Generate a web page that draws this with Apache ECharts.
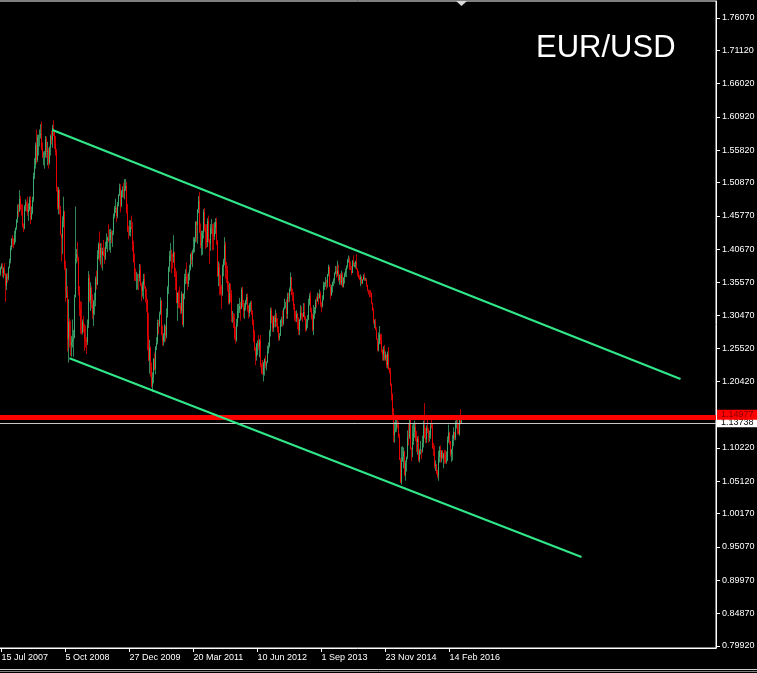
<!DOCTYPE html>
<html><head><meta charset="utf-8">
<script src="https://cdn.jsdelivr.net/npm/echarts@6/dist/echarts.min.js"></script>
<style>html,body{margin:0;padding:0;background:#000;}#chart{width:757px;height:673px;}</style>
</head><body><div id="chart"></div>
<script>
const chartTitle = 'EUR/USD';
const firstWeekStart = [2007, 6, 1];   // Sunday 1 Jul 2007 (UTC y, m0, d)
const weekSlots = 717;                 // weekly slots shown on the time axis (incl. empty future)
const xTickLabels = ['15 Jul 2007','5 Oct 2008','27 Dec 2009','20 Mar 2011','10 Jun 2012','1 Sep 2013','23 Nov 2014','14 Feb 2016'];
const yTickValues = [0.79920,0.84870,0.89970,0.95070,1.00170,1.05120,1.10220,1.20420,1.25520,1.30470,1.35570,1.40670,1.45770,1.50870,1.55820,1.60920,1.66020,1.71120,1.76070];

// weekly candles: [open, close, low, high]
const weeks2007 = [
[1.3610,1.3690,1.3580,1.3700],[1.3690,1.3780,1.3660,1.3800],[1.3780,1.3820,1.3760,1.3850],[1.3820,1.3700,1.3640,1.3850],
[1.3700,1.3760,1.3620,1.3790],[1.3760,1.3680,1.3660,1.3850],[1.3680,1.3500,1.3260,1.3700],[1.3500,1.3650,1.3440,1.3690],
[1.3650,1.3620,1.3550,1.3700],[1.3620,1.3790,1.3590,1.3800],[1.3790,1.3890,1.3770,1.3920],[1.3890,1.4090,1.3850,1.4120],
[1.4090,1.4230,1.4050,1.4230],[1.4230,1.4180,1.4100,1.4280],[1.4180,1.4150,1.4080,1.4230],[1.4150,1.4290,1.4130,1.4350],
[1.4290,1.4390,1.4170,1.4400],[1.4390,1.4520,1.4360,1.4530],[1.4520,1.4660,1.4470,1.4750],[1.4660,1.4640,1.4560,1.4760],
[1.4640,1.4840,1.4640,1.4970],[1.4840,1.4680,1.4660,1.4880],[1.4680,1.4670,1.4580,1.4760],[1.4670,1.4420,1.4400,1.4750],
[1.4420,1.4380,1.4330,1.4460],[1.4380,1.4720,1.4370,1.4740],[1.4720,1.4760,1.4650,1.4830]
];
const weeks2008 = [
[1.4760,1.4750,1.4640,1.4800],[1.4750,1.4630,1.4580,1.4870],[1.4630,1.4680,1.4500,1.4770],[1.4680,1.4830,1.4650,1.4870],
[1.4830,1.4520,1.4450,1.4880],[1.4520,1.4620,1.4520,1.4720],[1.4620,1.4820,1.4600,1.4870],[1.4820,1.5190,1.4790,1.5240],
[1.5190,1.5350,1.5140,1.5460],[1.5350,1.5660,1.5300,1.5700],[1.5660,1.5430,1.5380,1.5900],[1.5430,1.5790,1.5400,1.5820],
[1.5790,1.5800,1.5500,1.5820],[1.5800,1.5810,1.5640,1.5900],[1.5810,1.5830,1.5760,1.5980],[1.5830,1.5620,1.5580,1.6020],
[1.5620,1.5470,1.5460,1.5700],[1.5470,1.5480,1.5350,1.5560],[1.5480,1.5500,1.5300,1.5570],[1.5500,1.5750,1.5470,1.5800],
[1.5750,1.5550,1.5460,1.5790],[1.5550,1.5580,1.5350,1.5710],[1.5580,1.5380,1.5300,1.5620],[1.5380,1.5620,1.5360,1.5640],
[1.5620,1.5800,1.5500,1.5820],[1.5800,1.5730,1.5670,1.5880],[1.5730,1.5930,1.5620,1.5970],[1.5930,1.5890,1.5800,1.6040],
[1.5890,1.5700,1.5600,1.5890],[1.5700,1.5550,1.5500,1.5800],[1.5550,1.5000,1.4950,1.5600],[1.5000,1.4700,1.4670,1.5020],
[1.4700,1.4980,1.4600,1.5020],[1.4980,1.4670,1.4600,1.4980],[1.4670,1.4290,1.4280,1.4730],[1.4290,1.4230,1.3880,1.4300],
[1.4230,1.4500,1.3990,1.4570],[1.4500,1.4650,1.4400,1.4870],[1.4650,1.3800,1.3750,1.4650],[1.3800,1.3420,1.3260,1.3890],
[1.3420,1.3430,1.3320,1.3770],[1.3430,1.2680,1.2500,1.3500],[1.2680,1.2950,1.2330,1.3300],[1.2950,1.2720,1.2560,1.3000],
[1.2720,1.2600,1.2430,1.2970],[1.2600,1.2640,1.2420,1.2740],[1.2640,1.2690,1.2560,1.2990],[1.2690,1.2710,1.2420,1.2830],
[1.2710,1.3330,1.2700,1.3370],[1.3330,1.3930,1.3330,1.4720],[1.3930,1.4000,1.3850,1.4070],[1.4000,1.3930,1.3880,1.4180]
];
const weeks2009 = [
[1.3930,1.3420,1.3360,1.3950],[1.3420,1.3150,1.3040,1.3500],[1.3150,1.2820,1.2770,1.3270],[1.2820,1.2790,1.2760,1.3260],
[1.2790,1.2960,1.2760,1.2990],[1.2960,1.2850,1.2790,1.3040],[1.2850,1.2680,1.2510,1.2920],[1.2680,1.2660,1.2560,1.2900],
[1.2660,1.2640,1.2460,1.2720],[1.2640,1.2910,1.2600,1.2990],[1.2910,1.3630,1.2860,1.3730],[1.3630,1.3280,1.3250,1.3680],
[1.3280,1.3480,1.3120,1.3560],[1.3480,1.3220,1.3160,1.3500],[1.3220,1.3070,1.3000,1.3370],[1.3070,1.3260,1.2890,1.3290],
[1.3260,1.3280,1.3060,1.3400],[1.3280,1.3620,1.3190,1.3650],[1.3620,1.3520,1.3450,1.3740],[1.3520,1.3990,1.3520,1.4050],
[1.3990,1.4150,1.3910,1.4170],[1.4150,1.3930,1.3880,1.4340],[1.3930,1.4090,1.3830,1.4160],[1.4090,1.3970,1.3780,1.4160],
[1.3970,1.4040,1.3740,1.4090],[1.4040,1.3970,1.3960,1.4210],[1.3970,1.3930,1.3840,1.4090],[1.3930,1.4100,1.3900,1.4180],
[1.4100,1.4200,1.4070,1.4310],[1.4200,1.4240,1.4020,1.4260],[1.4240,1.4190,1.4170,1.4450],[1.4190,1.4200,1.4050,1.4370],
[1.4200,1.4330,1.4010,1.4380],[1.4330,1.4300,1.4160,1.4360],[1.4300,1.4320,1.4100,1.4350],[1.4320,1.4570,1.4280,1.4610],
[1.4570,1.4680,1.4540,1.4730],[1.4680,1.4700,1.4620,1.4840],[1.4700,1.4570,1.4480,1.4720],[1.4570,1.4760,1.4540,1.4790],
[1.4760,1.4900,1.4720,1.4910],[1.4900,1.5000,1.4880,1.5070],[1.5000,1.4730,1.4630,1.5060],[1.4730,1.4960,1.4710,1.4970],
[1.4960,1.4980,1.4860,1.5030],[1.4980,1.4950,1.4850,1.5080],[1.4950,1.4990,1.4830,1.5140],[1.4990,1.5040,1.4960,1.5140],
[1.5040,1.4630,1.4610,1.5100],[1.4630,1.4340,1.4330,1.4760],[1.4340,1.4320,1.4220,1.4420],[1.4320,1.4330,1.4270,1.4510]
];
const weeks2010 = [
[1.4330,1.4410,1.4260,1.4510],[1.4410,1.4380,1.4370,1.4580],[1.4380,1.4140,1.4030,1.4480],[1.4140,1.3870,1.3860,1.4190],
[1.3870,1.3630,1.3580,1.4000],[1.3630,1.3610,1.3580,1.3770],[1.3610,1.3620,1.3440,1.3720],[1.3620,1.3630,1.3450,1.3690],
[1.3630,1.3620,1.3440,1.3690],[1.3620,1.3750,1.3570,1.3840],[1.3750,1.3520,1.3500,1.3830],[1.3520,1.3420,1.3270,1.3550],
[1.3420,1.3510,1.3340,1.3570],[1.3510,1.3610,1.3300,1.3690],[1.3610,1.3500,1.3460,1.3690],[1.3500,1.3340,1.3250,1.3500],
[1.3340,1.3290,1.3110,1.3460],[1.3290,1.2750,1.2520,1.3300],[1.2750,1.2360,1.2350,1.3090],[1.2360,1.2560,1.2160,1.2680],
[1.2560,1.2270,1.2110,1.2580],[1.2270,1.1970,1.1950,1.2330],[1.1970,1.2110,1.1880,1.2180],[1.2110,1.2390,1.2010,1.2400],
[1.2390,1.2230,1.2210,1.2480],[1.2230,1.2570,1.2150,1.2580],[1.2570,1.2640,1.2520,1.2720],[1.2640,1.2940,1.2610,1.2990],
[1.2940,1.2920,1.2760,1.2980],[1.2920,1.3080,1.2880,1.3110],[1.3080,1.3280,1.3060,1.3330],[1.3280,1.2750,1.2750,1.3290],
[1.2750,1.2660,1.2590,1.2900],[1.2660,1.2750,1.2590,1.2780],[1.2750,1.2890,1.2640,1.2920],[1.2890,1.2740,1.2650,1.2900],
[1.2740,1.3050,1.2700,1.3160],[1.3050,1.3480,1.3020,1.3500],[1.3480,1.3790,1.3380,1.3800],[1.3790,1.3970,1.3720,1.4040],
[1.3970,1.3980,1.3880,1.4160],[1.3980,1.3950,1.3700,1.4060],[1.3950,1.3940,1.3770,1.4000],[1.3940,1.4020,1.3860,1.4280],
[1.4020,1.3690,1.3640,1.4030],[1.3690,1.3670,1.3440,1.3780],[1.3670,1.3240,1.3240,1.3730],[1.3240,1.3400,1.2970,1.3400],
[1.3400,1.3220,1.3160,1.3430],[1.3220,1.3200,1.3160,1.3490],[1.3200,1.3120,1.3070,1.3240],[1.3120,1.3380,1.3080,1.3420]
];
const weeks2011 = [
[1.3380,1.2910,1.2900,1.3390],[1.2910,1.3380,1.2870,1.3390],[1.3380,1.3610,1.3300,1.3690],[1.3610,1.3640,1.3530,1.3760],
[1.3640,1.3580,1.3540,1.3860],[1.3580,1.3530,1.3440,1.3690],[1.3530,1.3690,1.3490,1.3710],[1.3690,1.3750,1.3590,1.3830],
[1.3750,1.3990,1.3740,1.4000],[1.3990,1.3900,1.3830,1.4030],[1.3900,1.4020,1.3790,1.4060],[1.4020,1.4090,1.4000,1.4250],
[1.4090,1.4230,1.4020,1.4250],[1.4230,1.4490,1.4170,1.4490],[1.4490,1.4430,1.4180,1.4490],[1.4430,1.4670,1.4150,1.4680],
[1.4670,1.4810,1.4620,1.4880],[1.4810,1.4320,1.4320,1.4940],[1.4320,1.4120,1.4080,1.4460],[1.4120,1.4160,1.3970,1.4350],
[1.4160,1.4310,1.3980,1.4350],[1.4310,1.4640,1.4230,1.4680],[1.4640,1.4390,1.4340,1.4700],[1.4390,1.4330,1.4070,1.4450],
[1.4330,1.4170,1.4090,1.4450],[1.4170,1.4500,1.4100,1.4540],[1.4500,1.4200,1.4170,1.4580],[1.4200,1.4150,1.3840,1.4220],
[1.4150,1.4390,1.4040,1.4450],[1.4390,1.4400,1.4300,1.4530],[1.4400,1.4280,1.4050,1.4450],[1.4280,1.4260,1.4050,1.4460],
[1.4260,1.4380,1.4210,1.4480],[1.4380,1.4490,1.4300,1.4540],[1.4490,1.4200,1.4130,1.4550],[1.4200,1.3650,1.3650,1.4200],
[1.3650,1.3790,1.3500,1.3880],[1.3790,1.3500,1.3360,1.3850],[1.3500,1.3390,1.3360,1.3670],[1.3390,1.3380,1.3150,1.3520],
[1.3380,1.3790,1.3350,1.3830],[1.3790,1.3890,1.3650,1.3920],[1.3890,1.4130,1.3820,1.4250],[1.4130,1.3770,1.3610,1.4180],
[1.3770,1.3750,1.3550,1.3870],[1.3750,1.3520,1.3420,1.3810],[1.3520,1.3240,1.3220,1.3580],[1.3240,1.3390,1.3220,1.3550],
[1.3390,1.3380,1.3250,1.3540],[1.3380,1.3040,1.2950,1.3440],[1.3040,1.3050,1.2940,1.3120],[1.3050,1.2960,1.2860,1.3090]
];
const weeks2012 = [
[1.2960,1.2720,1.2680,1.3080],[1.2720,1.2680,1.2620,1.2880],[1.2680,1.2930,1.2650,1.3000],[1.2930,1.3130,1.2880,1.3230],
[1.3130,1.3150,1.3010,1.3230],[1.3150,1.3200,1.3090,1.3320],[1.3200,1.3150,1.2970,1.3260],[1.3150,1.3450,1.3150,1.3480],
[1.3450,1.3200,1.3180,1.3490],[1.3200,1.3120,1.3020,1.3290],[1.3120,1.3180,1.3000,1.3240],[1.3180,1.3270,1.3130,1.3290],
[1.3270,1.3340,1.3220,1.3380],[1.3340,1.3140,1.3110,1.3390],[1.3140,1.3080,1.3000,1.3210],[1.3080,1.3220,1.3030,1.3240],
[1.3220,1.3240,1.3110,1.3270],[1.3240,1.3090,1.3060,1.3280],[1.3090,1.2920,1.2900,1.3130],[1.2920,1.2780,1.2640,1.2990],
[1.2780,1.2520,1.2510,1.2830],[1.2520,1.2420,1.2290,1.2570],[1.2420,1.2620,1.2360,1.2630],[1.2620,1.2640,1.2440,1.2670],
[1.2640,1.2570,1.2520,1.2750],[1.2570,1.2670,1.2410,1.2690],[1.2670,1.2290,1.2260,1.2750],[1.2290,1.2160,1.2160,1.2320],
[1.2160,1.2150,1.2140,1.2370],[1.2150,1.2320,1.2040,1.2340],[1.2320,1.2390,1.2130,1.2390],[1.2390,1.2280,1.2240,1.2440],
[1.2280,1.2330,1.2210,1.2350],[1.2330,1.2510,1.2320,1.2590],[1.2510,1.2580,1.2470,1.2640],[1.2580,1.2810,1.2560,1.2830],
[1.2810,1.3130,1.2730,1.3170],[1.3130,1.2980,1.2930,1.3170],[1.2980,1.2860,1.2800,1.3050],[1.2860,1.3040,1.2800,1.3040],
[1.3040,1.2950,1.2870,1.3060],[1.2950,1.3020,1.2870,1.3140],[1.3020,1.2940,1.2880,1.3090],[1.2940,1.2840,1.2790,1.3010],
[1.2840,1.2710,1.2660,1.2880],[1.2710,1.2740,1.2670,1.2780],[1.2740,1.2980,1.2740,1.2990],[1.2980,1.2990,1.2880,1.3030],
[1.2990,1.2930,1.2880,1.3130],[1.2930,1.3160,1.2900,1.3170],[1.3160,1.3180,1.3140,1.3310],[1.3180,1.3190,1.3160,1.3260],
[1.3190,1.3070,1.3000,1.3300]
];
const weeks2013 = [
[1.3070,1.3340,1.3000,1.3400],[1.3340,1.3320,1.3250,1.3400],[1.3320,1.3460,1.3260,1.3480],[1.3460,1.3640,1.3420,1.3710],
[1.3640,1.3370,1.3360,1.3640],[1.3370,1.3360,1.3270,1.3460],[1.3360,1.3190,1.3140,1.3410],[1.3190,1.3020,1.2970,1.3230],
[1.3020,1.3010,1.2950,1.3120],[1.3010,1.3080,1.2950,1.3130],[1.3080,1.2990,1.2840,1.3090],[1.2990,1.2820,1.2750,1.3020],
[1.2820,1.2990,1.2750,1.3000],[1.2990,1.3100,1.2970,1.3210],[1.3100,1.3050,1.2990,1.3190],[1.3050,1.3030,1.2950,1.3090],
[1.3030,1.3110,1.3030,1.3240],[1.3110,1.2990,1.2980,1.3240],[1.2990,1.2830,1.2800,1.3040],[1.2830,1.2930,1.2820,1.3000],
[1.2930,1.2990,1.2860,1.3060],[1.2990,1.3220,1.2980,1.3310],[1.3220,1.3350,1.3200,1.3390],[1.3350,1.3120,1.3100,1.3420],
[1.3120,1.3010,1.2990,1.3170],[1.3010,1.2830,1.2810,1.3080],[1.2830,1.3060,1.2750,1.3210],[1.3060,1.3140,1.3000,1.3180],
[1.3140,1.3280,1.3080,1.3300],[1.3280,1.3270,1.3170,1.3340],[1.3270,1.3340,1.3260,1.3400],[1.3340,1.3320,1.3220,1.3390],
[1.3320,1.3380,1.3310,1.3450],[1.3380,1.3220,1.3180,1.3420],[1.3220,1.3190,1.3100,1.3260],[1.3190,1.3300,1.3170,1.3360],
[1.3300,1.3520,1.3280,1.3570],[1.3520,1.3530,1.3440,1.3560],[1.3530,1.3560,1.3490,1.3640],[1.3560,1.3550,1.3450,1.3600],
[1.3550,1.3680,1.3480,1.3690],[1.3680,1.3800,1.3650,1.3830],[1.3800,1.3490,1.3490,1.3810],[1.3490,1.3360,1.3300,1.3530],
[1.3360,1.3500,1.3350,1.3520],[1.3500,1.3560,1.3400,1.3570],[1.3560,1.3590,1.3500,1.3620],[1.3590,1.3700,1.3540,1.3710],
[1.3700,1.3740,1.3680,1.3810],[1.3740,1.3680,1.3630,1.3810],[1.3680,1.3740,1.3650,1.3890],[1.3740,1.3590,1.3570,1.3830]
];
const weeks2014 = [
[1.3590,1.3670,1.3520,1.3680],[1.3670,1.3540,1.3520,1.3700],[1.3540,1.3680,1.3510,1.3740],[1.3680,1.3490,1.3480,1.3710],
[1.3490,1.3630,1.3480,1.3640],[1.3630,1.3690,1.3540,1.3710],[1.3690,1.3740,1.3640,1.3770],[1.3740,1.3800,1.3640,1.3820],
[1.3800,1.3910,1.3770,1.3920],[1.3910,1.3920,1.3860,1.3970],[1.3920,1.3780,1.3750,1.3950],[1.3780,1.3750,1.3750,1.3880],
[1.3750,1.3700,1.3670,1.3810],[1.3700,1.3880,1.3700,1.3900],[1.3880,1.3810,1.3800,1.3970],[1.3810,1.3830,1.3790,1.3860],
[1.3830,1.3870,1.3770,1.3890],[1.3870,1.3760,1.3750,1.3990],[1.3760,1.3700,1.3650,1.3770],[1.3700,1.3630,1.3620,1.3730],
[1.3630,1.3610,1.3590,1.3670],[1.3610,1.3640,1.3500,1.3680],[1.3640,1.3540,1.3530,1.3650],[1.3540,1.3600,1.3530,1.3610],
[1.3600,1.3650,1.3590,1.3680],[1.3650,1.3590,1.3580,1.3700],[1.3590,1.3600,1.3580,1.3630],[1.3600,1.3520,1.3490,1.3620],
[1.3520,1.3430,1.3420,1.3520],[1.3430,1.3420,1.3370,1.3450],[1.3420,1.3410,1.3330,1.3440],[1.3410,1.3400,1.3330,1.3440],
[1.3400,1.3240,1.3230,1.3400],[1.3240,1.3130,1.3120,1.3250],[1.3130,1.2950,1.2920,1.3170],[1.2950,1.2960,1.2860,1.2990],
[1.2960,1.2830,1.2830,1.3000],[1.2830,1.2680,1.2680,1.2870],[1.2680,1.2520,1.2500,1.2700],[1.2520,1.2630,1.2500,1.2790],
[1.2630,1.2760,1.2610,1.2890],[1.2760,1.2670,1.2610,1.2770],[1.2670,1.2530,1.2480,1.2770],[1.2530,1.2450,1.2360,1.2540],
[1.2450,1.2530,1.2360,1.2580],[1.2530,1.2390,1.2360,1.2600],[1.2390,1.2450,1.2360,1.2500],[1.2450,1.2290,1.2250,1.2460],
[1.2290,1.2470,1.2240,1.2500],[1.2470,1.2230,1.2220,1.2570],[1.2230,1.2190,1.2160,1.2250],[1.2190,1.2000,1.1970,1.2250]
];
const weeks2015 = [
[1.2000,1.1840,1.1750,1.2010],[1.1840,1.1560,1.1460,1.1860],[1.1560,1.1210,1.1110,1.1630],[1.1210,1.1290,1.1100,1.1420],
[1.1290,1.1320,1.1260,1.1530],[1.1320,1.1390,1.1270,1.1450],[1.1390,1.1380,1.1320,1.1450],[1.1380,1.1190,1.1180,1.1430],
[1.1190,1.0840,1.0840,1.1240],[1.0840,1.0490,1.0490,1.0870],[1.0490,1.0820,1.0460,1.1040],[1.0820,1.0890,1.0810,1.1050],
[1.0890,1.0970,1.0710,1.1030],[1.0970,1.0600,1.0590,1.0980],[1.0600,1.0800,1.0520,1.0830],[1.0800,1.0880,1.0660,1.0890],
[1.0880,1.1200,1.0850,1.1290],[1.1200,1.1190,1.1060,1.1390],[1.1190,1.1450,1.1160,1.1470],[1.1450,1.1010,1.1000,1.1460],
[1.1010,1.0990,1.0820,1.1030],[1.0990,1.1120,1.0880,1.1380],[1.1120,1.1260,1.1070,1.1390],[1.1260,1.1350,1.1180,1.1440],
[1.1350,1.1160,1.1130,1.1410],[1.1160,1.1110,1.0960,1.1280],[1.1110,1.1160,1.0920,1.1200],[1.1160,1.0830,1.0810,1.1210],
[1.0830,1.0980,1.0800,1.1010],[1.0980,1.0990,1.0920,1.1130],[1.0990,1.0970,1.0850,1.1000],[1.0970,1.1100,1.0950,1.1210],
[1.1100,1.1380,1.1030,1.1440],[1.1380,1.1180,1.1170,1.1710],[1.1180,1.1150,1.1090,1.1330],[1.1150,1.1340,1.1100,1.1370],
[1.1340,1.1300,1.1250,1.1460],[1.1300,1.1190,1.1100,1.1330],[1.1190,1.1210,1.1120,1.1290],[1.1210,1.1360,1.1160,1.1390],
[1.1360,1.1350,1.1320,1.1490],[1.1350,1.1020,1.1010,1.1390],[1.1020,1.1000,1.0900,1.1100],[1.1000,1.0740,1.0710,1.1060],
[1.0740,1.0770,1.0670,1.0830],[1.0770,1.0640,1.0620,1.0780],[1.0640,1.0590,1.0560,1.0690],[1.0590,1.0880,1.0520,1.0980],
[1.0880,1.0990,1.0800,1.1050],[1.0990,1.0870,1.0800,1.1060],[1.0870,1.0970,1.0800,1.0990],[1.0970,1.0860,1.0850,1.0990]
];
const weeks2016 = [
[1.0860,1.0930,1.0710,1.0950],[1.0930,1.0920,1.0780,1.0990],[1.0920,1.0800,1.0780,1.0990],[1.0800,1.0830,1.0780,1.0970],
[1.0830,1.1150,1.0820,1.1200],[1.1150,1.1260,1.1100,1.1380],[1.1260,1.1130,1.1070,1.1270],[1.1130,1.0930,1.0890,1.1130],
[1.0930,1.1000,1.0810,1.1010],[1.1000,1.1150,1.0830,1.1220],[1.1150,1.1270,1.1050,1.1340],[1.1270,1.1170,1.1140,1.1270],
[1.1170,1.1390,1.1140,1.1440],[1.1390,1.1400,1.1320,1.1450],[1.1400,1.1280,1.1230,1.1460],[1.1280,1.1230,1.1230,1.1400],
[1.1230,1.1450,1.1210,1.1450],[1.1450,1.1400,1.1380,1.1616],[1.1400,1.1440,1.1395,1.1460]
];

// horizontal levels and hand-drawn channel (week slot, price)
const redLevel = 1.14977;
const bidLevel = 1.13738;
const dashLevelGreen = 1.1455;
const dashLevelBrown = 1.1428;
const upperChannel = [[53, 1.5892], [681, 1.2079]];
const lowerChannel = [[70, 1.2396], [582, 0.9353]];

const weeks = [].concat(weeks2007, weeks2008, weeks2009, weeks2010, weeks2011, weeks2012, weeks2013, weeks2014, weeks2015, weeks2016);

const monthNames = ['Jan','Feb','Mar','Apr','May','Jun','Jul','Aug','Sep','Oct','Nov','Dec'];
const categories = [];
const t0 = Date.UTC(firstWeekStart[0], firstWeekStart[1], firstWeekStart[2]);
for (let i = 0; i < weekSlots; i++) {
  const d = new Date(t0 + i * 7 * 86400000);
  categories.push(d.getUTCDate() + ' ' + monthNames[d.getUTCMonth()] + ' ' + d.getUTCFullYear());
}
const showTick = (i, v) => xTickLabels.indexOf(v) >= 0;

const chart = echarts.init(document.getElementById('chart'), null, {renderer: 'canvas'});
const channelStyle = {color: '#30e88a', width: 2, type: 'solid'};
chart.setOption({
  backgroundColor: '#000000',
  animation: false,
  title: {
    text: chartTitle, left: 531, top: 28,
    textStyle: {color: '#ffffff', fontSize: 31, fontWeight: 'normal', fontFamily: 'Liberation Sans'}
  },
  grid: {left: -1, right: 41, top: 1, bottom: 25, show: true, borderColor: '#ffffff', borderWidth: 1, outerBoundsMode: 'none', containLabel: false},
  xAxis: {
    type: 'category', data: categories, boundaryGap: true,
    axisLine: {show: true, lineStyle: {color: '#ffffff', width: 1}},
    axisTick: {show: true, interval: showTick, alignWithLabel: true, length: 4, lineStyle: {color: '#ffffff'}},
    axisLabel: {interval: showTick, align: 'left', color: '#ffffff', fontSize: 9, fontFamily: 'Liberation Sans', margin: 5, hideOverlap: false},
    splitLine: {show: false}
  },
  yAxis: {
    type: 'value', position: 'right', min: 0.7959, max: 1.7867,
    axisLine: {show: true, lineStyle: {color: '#ffffff', width: 1}},
    axisTick: {show: true, length: 4, customValues: yTickValues, lineStyle: {color: '#ffffff'}},
    axisLabel: {customValues: yTickValues, color: '#ffffff', fontSize: 9, fontFamily: 'Liberation Sans', margin: 6,
      formatter: v => v.toFixed(5), hideOverlap: false},
    splitLine: {show: false}
  },
  graphic: [
    {type: 'polygon', shape: {points: [[456, 1], [467, 1], [461.5, 6]]}, style: {fill: '#d8d8d8'}, z: 100},
    {type: 'line', shape: {x1: 0, y1: 669.5, x2: 757, y2: 669.5}, style: {stroke: '#d0d0d0', lineWidth: 1}},
    {type: 'line', shape: {x1: 0, y1: 671.5, x2: 757, y2: 671.5}, style: {stroke: '#808080', lineWidth: 1}}
  ],
  series: [{
    type: 'candlestick',
    data: weeks,
    barWidth: 1.4,
    itemStyle: {color: '#44b878', color0: '#ff0000', borderColor: '#44b878', borderColor0: '#ff0000', borderWidth: 1, opacity: 0.72},
    markLine: {
      silent: true, symbol: ['none', 'none'], animation: false,
      label: {show: false},
      data: [
        {yAxis: dashLevelGreen, lineStyle: {color: '#4f8a2a', width: 1, type: [6, 6], opacity: 1}},
        {yAxis: dashLevelBrown, lineStyle: {color: '#9a6330', width: 1, type: [6, 6], dashOffset: 6, opacity: 1}},
        {yAxis: bidLevel, lineStyle: {color: '#c8c8c8', width: 1, type: 'solid', opacity: 1},
          label: {show: true, position: 'end', distance: 1, offset: [0, -1], formatter: bidLevel.toFixed(5), backgroundColor: '#ffffff',
            color: '#000000', fontSize: 9, fontFamily: 'Liberation Sans', padding: [1, 5, 0, 4]}},
        {yAxis: redLevel, lineStyle: {color: '#ff0000', width: 5, type: 'solid', opacity: 1},
          label: {show: true, position: 'end', distance: 1, offset: [0, -2], formatter: redLevel.toFixed(5), backgroundColor: '#ff0000',
            color: '#800000', fontSize: 9, fontFamily: 'Liberation Sans', padding: [1, 5, 0, 4]}},
        [{coord: upperChannel[0], lineStyle: channelStyle}, {coord: upperChannel[1], lineStyle: channelStyle}],
        [{coord: lowerChannel[0], lineStyle: channelStyle}, {coord: lowerChannel[1], lineStyle: channelStyle}]
      ]
    }
  }]
});
</script>
</body></html>
